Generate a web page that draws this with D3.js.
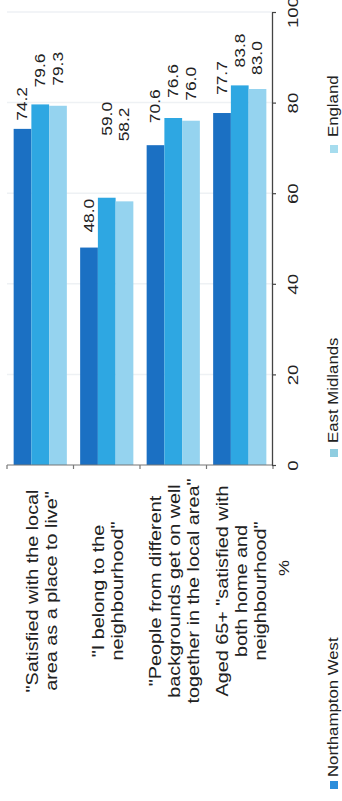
<!DOCTYPE html>
<html>
<head>
<meta charset="utf-8">
<script src="https://cdn.jsdelivr.net/npm/d3@7/dist/d3.min.js"></script>
<style>
  html, body { margin: 0; padding: 0; background: #fff; }
  svg { display: block; }
  text { font-family: "Liberation Sans", Arial, Helvetica, sans-serif; fill: #222; }
</style>
</head>
<body>
<svg id="chart" width="342" height="801"></svg>
<script>
// ---- data ----
const categories = [
  "\"Satisfied with the local area as a place to live\"",
  "\"I belong to the neighbourhood\"",
  "\"People from different backgrounds get on well together in the local area\"",
  "Aged 65+ \"satisfied with both home and neighbourhood\""
];
const categoryLines = [
  ["\"Satisfied with the local", "area as a place to live\""],
  ["\"I belong to the", "neighbourhood\""],
  ["\"People from different", "backgrounds get on well", "together in the local area\""],
  ["Aged 65+ \"satisfied with", "both home and", "neighbourhood\""]
];
const series = ["Northampton West", "East Midlands", "England"];
const northamptonWest = [74.2, 48.0, 70.6, 77.7];
const eastMidlands = [79.6, 59.0, 76.6, 83.8];
const england = [79.3, 58.2, 76.0, 83.0];
const valueTicks = [0, 20, 40, 60, 80, 100];
const axisTitle = "%";

// ---- layout / style (not data) ----
const colors = ["#1b70c3", "#2ea7e2", "#95d3ef"];
const legendColors = ["#2b8ddb", "#8fcde0", "#a6dcee"];
const labelGap = [[8, 17, 20], [15, 62, 60], [22, 20, 20], [18, 18, 14]];
const legendSquareBottom = [789, 457, 153];
const legendTextGap = [4, 6, 8];
const stretch = 1.2;

const svg = d3.select("#chart");
const values = [northamptonWest, eastMidlands, england];

const x0 = d3.scaleBand().domain(categories).range([7, 273]).paddingInner(0.2).paddingOuter(0.1);
const x1 = d3.scaleBand().domain(series).range([0, x0.bandwidth()]).padding(0);
const y = d3.scaleLinear().domain([0, 100]).range([465, 12]);

// gridlines
svg.append("g").selectAll("line").data(valueTicks.filter(v => v > 0)).join("line")
  .attr("x1", 7).attr("x2", 272)
  .attr("y1", d => y(d)).attr("y2", d => y(d))
  .attr("stroke", "#eef1f4").attr("stroke-width", 1.5);

// bars
const groups = svg.append("g").selectAll("g").data(categories).join("g")
  .attr("transform", d => `translate(${x0(d)},0)`);

groups.each(function(cat, ci) {
  const g = d3.select(this);
  series.forEach((s, si) => {
    const v = values[si][ci];
    g.append("rect")
      .attr("x", x1(s)).attr("width", x1.bandwidth())
      .attr("y", y(v)).attr("height", y(0) - y(v))
      .attr("fill", colors[si]);
    g.append("text")
      .attr("transform", `translate(${x1(s) + x1.bandwidth() / 2},${y(v) - labelGap[ci][si]}) rotate(-90) scale(${stretch},1)`)
      .attr("text-anchor", "start")
      .attr("dominant-baseline", "central")
      .style("font-size", "14.5px")
      .text(v.toFixed(1));
  });
});

// category axis (bottom, between groups)
const step = x0.step();
const half = step * x0.paddingInner() / 2;
const bounds = categories.map(c => x0(c) - half).concat([x0(categories[categories.length - 1]) + x0.bandwidth() + half]);
const catAxis = svg.append("g");
catAxis.append("line").attr("x1", bounds[0]).attr("x2", bounds[bounds.length - 1])
  .attr("y1", y(0)).attr("y2", y(0)).attr("stroke", "#777").attr("stroke-width", 1.2);
catAxis.selectAll(".tk").data(bounds).join("line").attr("class", "tk")
  .attr("x1", d => d).attr("x2", d => d).attr("y1", y(0)).attr("y2", y(0) + 4)
  .attr("stroke", "#777").attr("stroke-width", 1.2);

// category labels
categoryLines.forEach((lines, ci) => {
  const cx = x0(categories[ci]) + x0.bandwidth() / 2 + 1.5;
  const t = svg.append("text")
    .attr("transform", `translate(${cx},591) rotate(-90) scale(${stretch},1)`)
    .attr("text-anchor", "middle")
    .style("font-size", "16.5px");
  lines.forEach((ln, i) => {
    t.append("tspan").attr("x", 0).attr("y", (i - (lines.length - 1) / 2) * 19)
      .attr("dominant-baseline", "central").text(ln);
  });
});

// value axis (right)
const vAxis = svg.append("g").attr("transform", `translate(272,0)`)
  .call(d3.axisRight(y).tickValues(valueTicks).tickSize(4).tickSizeOuter(0).tickFormat(d3.format("d")));
vAxis.select(".domain").attr("stroke", "#444").attr("stroke-width", 1.3);
vAxis.selectAll(".tick line").attr("stroke", "#444").attr("stroke-width", 1.2);
vAxis.selectAll(".tick text")
  .attr("x", null).attr("dy", null)
  .attr("transform", `translate(21,0) rotate(-90) scale(${stretch},1)`)
  .attr("text-anchor", "middle")
  .attr("dominant-baseline", "central")
  .style("font-family", "'Liberation Sans', Arial, sans-serif")
  .style("font-size", "15.5px")
  .attr("fill", "#222");

// axis title
svg.append("text")
  .attr("transform", `translate(284,568) rotate(-90) scale(${stretch},1)`)
  .attr("text-anchor", "middle").attr("dominant-baseline", "central")
  .style("font-size", "15px").text(axisTitle);

// legend
series.forEach((s, si) => {
  const yb = legendSquareBottom[si];
  svg.append("rect").attr("x", 330).attr("y", yb - 8).attr("width", 8).attr("height", 8)
    .attr("fill", legendColors[si]);
  svg.append("text")
    .attr("transform", `translate(333.5,${yb - 8 - legendTextGap[si]}) rotate(-90) scale(${stretch},1)`)
    .attr("text-anchor", "start").attr("dominant-baseline", "central")
    .style("font-size", "14px").text(s);
});
</script>
</body>
</html>
